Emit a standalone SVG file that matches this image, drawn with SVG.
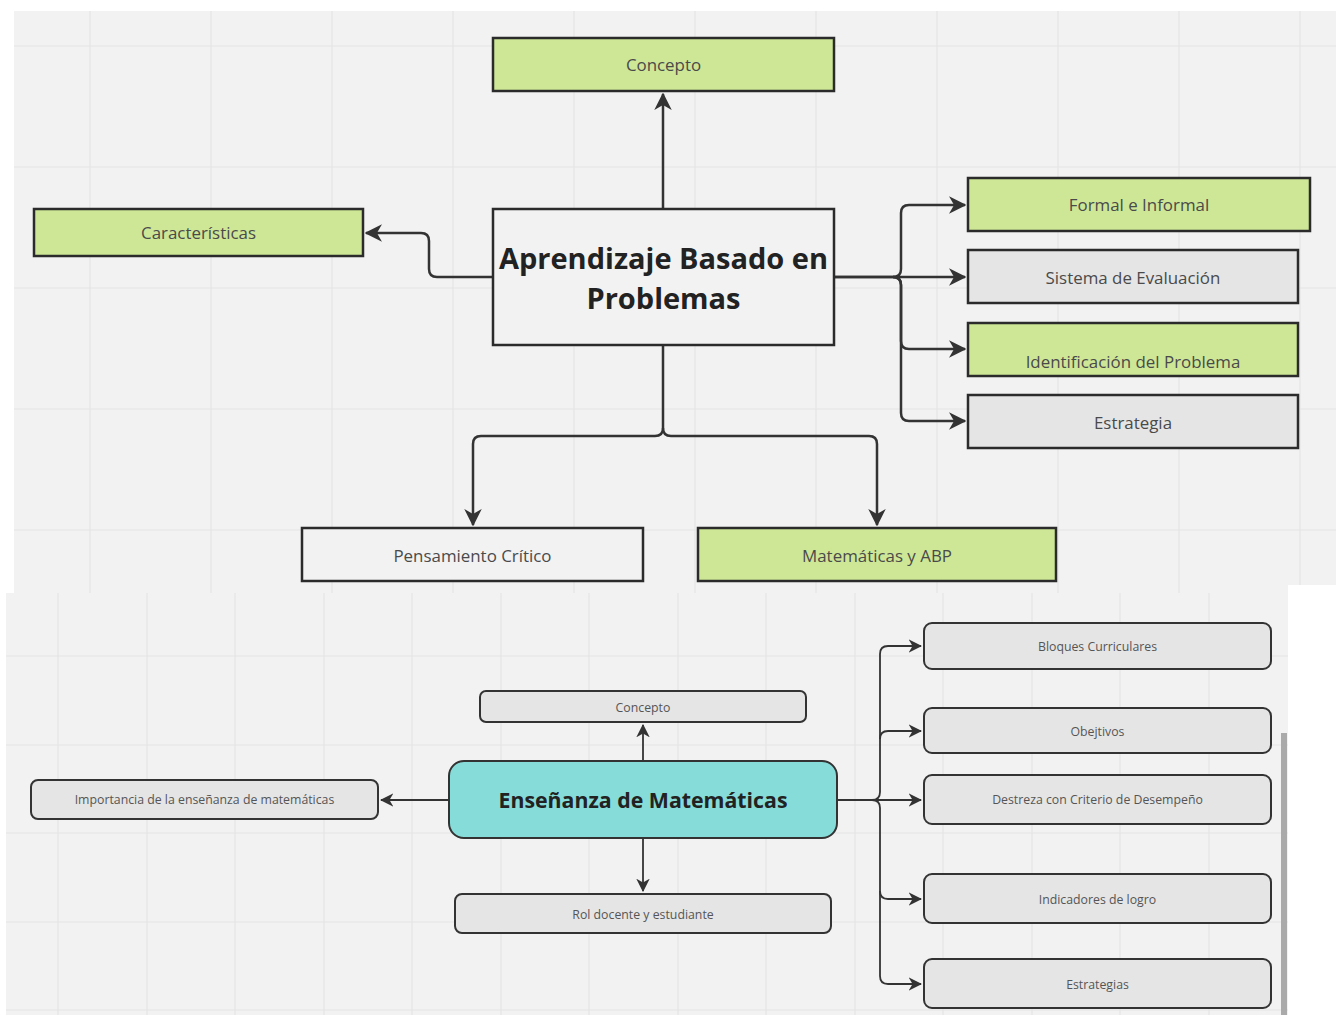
<svg xmlns="http://www.w3.org/2000/svg" width="1336" height="1015" viewBox="0 0 1336 1015">
<defs>
<style>
.grid{stroke:#e4e4e4;stroke-width:1.2;fill:none}
.n1{stroke:#2b2b2b;stroke-width:2.5}
.n2{stroke:#333;stroke-width:2}
.green{fill:#cee797}
.gray{fill:#e5e5e5}
.plain{fill:#f2f2f2}
.t1{font-family:"Open Sans","Noto Sans",sans-serif;font-size:16.9px;fill:#4a4a4a;text-anchor:middle}
.t2{font-family:"Open Sans","Noto Sans",sans-serif;font-size:12.3px;fill:#555;text-anchor:middle}
.big{font-family:"Open Sans","Noto Sans",sans-serif;font-weight:bold;fill:#222;text-anchor:middle}
.c1{fill:none;stroke:#333;stroke-width:2.5}
.c2{fill:none;stroke:#333;stroke-width:1.8}
</style>
<marker id="a1" viewBox="0 0 12 12" refX="11" refY="6" markerWidth="7" markerHeight="7" markerUnits="strokeWidth" orient="auto">
<path d="M0,0 L12,6 L0,12 L3.5,6 Z" fill="#333"/>
</marker>
<marker id="a2" viewBox="0 0 12 12" refX="11" refY="6" markerWidth="7.5" markerHeight="7.5" markerUnits="strokeWidth" orient="auto">
<path d="M0,0 L12,6 L0,12 L3.5,6 Z" fill="#333"/>
</marker>
</defs>
<rect width="1336" height="1015" fill="#ffffff"/>
<!-- top panel -->
<rect x="14" y="11" width="1322" height="574" fill="#f2f2f2"/>
<rect x="14" y="580" width="1274" height="13" fill="#f2f2f2"/>
<g class="grid">
<path d="M90,11V593M211,11V593M332,11V593M453,11V593M574,11V593M695,11V593M816,11V593M937,11V593M1058,11V593M1179,11V593M1300,11V585"/>
<path d="M14,46H1336M14,167H1336M14,288H1336M14,409H1336M14,530H1336"/>
</g>
<!-- bottom panel -->
<rect x="6" y="593" width="1282" height="422" fill="#f2f2f2"/>
<g class="grid">
<path d="M58,593V1015M147,593V1015M235,593V1015M324,593V1015M412,593V1015M501,593V1015M589,593V1015M678,593V1015M766,593V1015M855,593V1015M943,593V1015M1032,593V1015M1120,593V1015M1209,593V1015"/>
<path d="M6,656H1288M6,745H1288M6,833H1288M6,922H1288M6,1010H1288"/>
</g>
<rect x="1281" y="733" width="6" height="282" fill="#aaaaaa"/>

<g id="connectors">
<path class="c1" d="M663,209V94" marker-end="url(#a1)"/>
<path class="c1" d="M493,277H437Q429,277 429,269V241Q429,233 421,233H366" marker-end="url(#a1)"/>
<path class="c1" d="M834,277H893Q901,277 901,269V213Q901,205 909,205H965" marker-end="url(#a1)"/>
<path class="c1" d="M834,277H965" marker-end="url(#a1)"/>
<path class="c1" d="M893,277Q901,277 901,285V341Q901,349 909,349H965" marker-end="url(#a1)"/>
<path class="c1" d="M893,277Q901,277 901,285V413Q901,421 909,421H965" marker-end="url(#a1)"/>
<path class="c1" d="M663,345V428Q663,436 655,436H481Q473,436 473,444V525" marker-end="url(#a1)"/>
<path class="c1" d="M663,428Q663,436 671,436H869Q877,436 877,444V525" marker-end="url(#a1)"/>

<path class="c2" d="M643,761V725" marker-end="url(#a2)"/>
<path class="c2" d="M449,800H381" marker-end="url(#a2)"/>
<path class="c2" d="M643,838V891" marker-end="url(#a2)"/>
<path class="c2" d="M837,800H921" marker-end="url(#a2)"/>
<path class="c2" d="M872,800Q880,800 880,792V654Q880,646 888,646H921" marker-end="url(#a2)"/>
<path class="c2" d="M880,739Q880,731 888,731H921" marker-end="url(#a2)"/>
<path class="c2" d="M872,800Q880,800 880,808V976Q880,984 888,984H921" marker-end="url(#a2)"/>
<path class="c2" d="M880,891Q880,899 888,899H921" marker-end="url(#a2)"/>
</g>

<g id="n-concepto">
<rect class="n1 green" x="493" y="38" width="341" height="53"/>
<text class="t1" x="663.5" y="71">Concepto</text>
</g>
<g id="n-caracteristicas">
<rect class="n1 green" x="34" y="209" width="329" height="47"/>
<text class="t1" x="198.5" y="239">Características</text>
</g>
<g id="n-abp">
<rect class="n1 plain" x="493" y="209" width="341" height="136"/>
<text class="big" x="663.5" y="269" font-size="29">Aprendizaje Basado en</text>
<text class="big" x="663.5" y="309" font-size="29">Problemas</text>
</g>
<g id="n-formal">
<rect class="n1 green" x="968" y="178" width="342" height="53"/>
<text class="t1" x="1139" y="211">Formal e Informal</text>
</g>
<g id="n-sistema">
<rect class="n1 gray" x="968" y="250" width="330" height="53"/>
<text class="t1" x="1133" y="283.5">Sistema de Evaluación</text>
</g>
<g id="n-identificacion">
<rect class="n1 green" x="968" y="323" width="330" height="53"/>
<text class="t1" x="1133" y="368">Identificación del Problema</text>
</g>
<g id="n-estrategia">
<rect class="n1 gray" x="968" y="395" width="330" height="53"/>
<text class="t1" x="1133" y="428.5">Estrategia</text>
</g>
<g id="n-pensamiento">
<rect class="n1 plain" x="302" y="528" width="341" height="53"/>
<text class="t1" x="472.5" y="561.5">Pensamiento Crítico</text>
</g>
<g id="n-matabp">
<rect class="n1 green" x="698" y="528" width="358" height="53"/>
<text class="t1" x="877" y="561.5">Matemáticas y ABP</text>
</g>

<g id="n-concepto2">
<rect class="n2 gray" x="480" y="691" width="326" height="31" rx="6"/>
<text class="t2" x="643" y="711.5">Concepto</text>
</g>
<g id="n-ensenanza">
<rect x="449" y="761" width="388" height="77" rx="15" fill="#86dcd9" stroke="#333" stroke-width="2"/>
<text class="big" x="643" y="807.5" font-size="21.3">Enseñanza de Matemáticas</text>
</g>
<g id="n-importancia">
<rect class="n2 gray" x="31" y="780" width="347" height="39" rx="7"/>
<text class="t2" x="204.5" y="804">Importancia de la enseñanza de matemáticas</text>
</g>
<g id="n-rol">
<rect class="n2 gray" x="455" y="894" width="376" height="39" rx="7"/>
<text class="t2" x="643" y="918.5">Rol docente y estudiante</text>
</g>
<g id="n-bloques">
<rect class="n2 gray" x="924" y="623" width="347" height="46" rx="8"/>
<text class="t2" x="1097.5" y="650.5">Bloques Curriculares</text>
</g>
<g id="n-objetivos">
<rect class="n2 gray" x="924" y="708" width="347" height="45" rx="8"/>
<text class="t2" x="1097.5" y="735.5">Obejtivos</text>
</g>
<g id="n-destreza">
<rect class="n2 gray" x="924" y="775" width="347" height="49" rx="8"/>
<text class="t2" x="1097.5" y="804">Destreza con Criterio de Desempeño</text>
</g>
<g id="n-indicadores">
<rect class="n2 gray" x="924" y="874" width="347" height="49" rx="8"/>
<text class="t2" x="1097.5" y="904">Indicadores de logro</text>
</g>
<g id="n-estrategias">
<rect class="n2 gray" x="924" y="959" width="347" height="49" rx="8"/>
<text class="t2" x="1097.5" y="988.5">Estrategias</text>
</g>
</svg>
